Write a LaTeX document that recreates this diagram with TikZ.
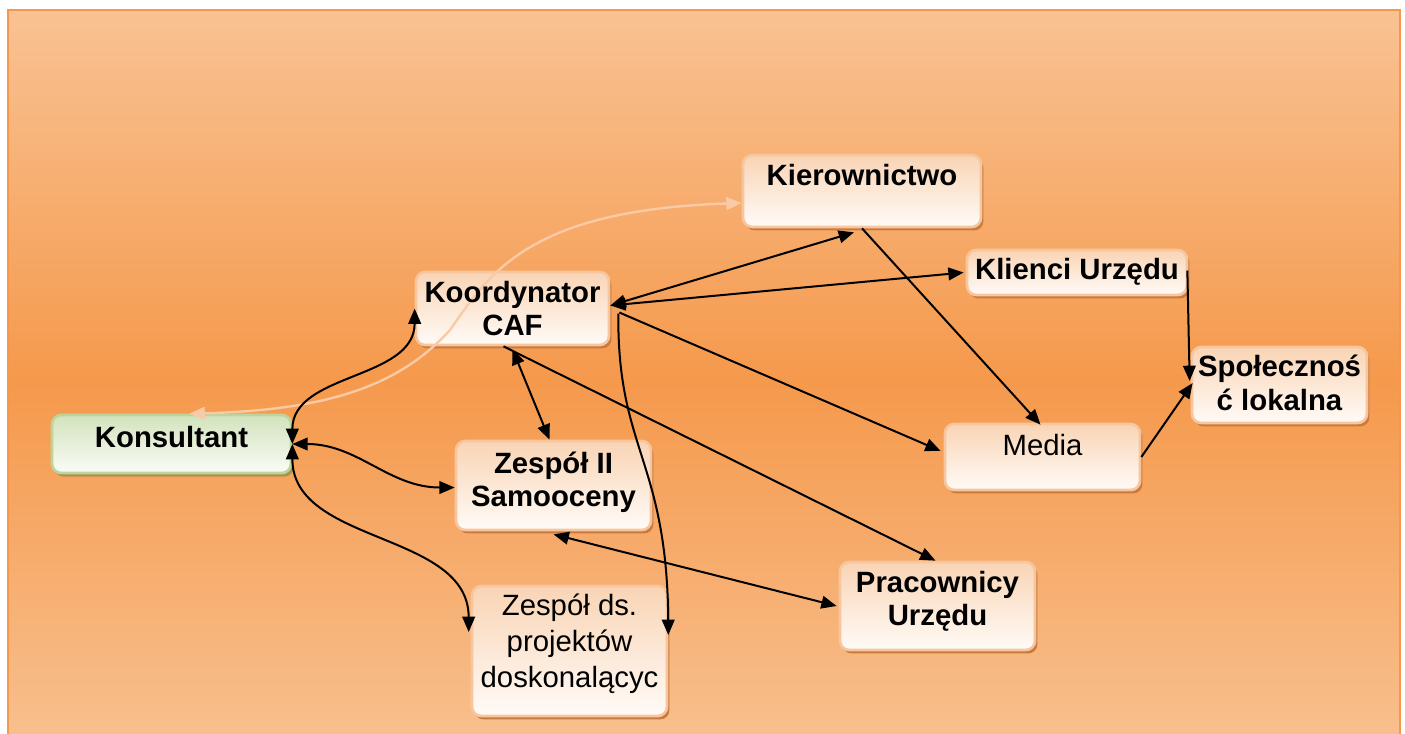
\documentclass[tikz,border=0pt]{standalone}
\usepackage{fontspec}
\setmainfont{Liberation Sans}
\usetikzlibrary{arrows.meta,shadows,calc}
\definecolor{bgTop}{HTML}{F9C293}
\definecolor{bgMid}{HTML}{F5994C}
\definecolor{bgBot}{HTML}{F8C08F}
\definecolor{frameC}{HTML}{F7974B}
\definecolor{boxTop}{HTML}{F9D4B5}
\definecolor{boxBot}{HTML}{FFFBF7}
\definecolor{boxBorder}{HTML}{F8C69E}
\definecolor{boxShadow}{HTML}{C97A3C}
\definecolor{grTop}{HTML}{D2E3BD}
\definecolor{grBot}{HTML}{FAFCF6}
\definecolor{grBorder}{HTML}{BDD59C}
\definecolor{grShadow}{HTML}{A59552}
\definecolor{fadeC}{HTML}{FAC9A6}
\tikzset{
  box/.style={rounded corners=7pt, draw=boxBorder, line width=2pt,
    top color=boxTop, bottom color=boxBot, inner sep=0pt,
    drop shadow={shadow xshift=1.8pt, shadow yshift=-2.6pt, fill=boxShadow, opacity=1}},
  gbox/.style={box, draw=grBorder, top color=grTop, bottom color=grBot,
    drop shadow={shadow xshift=1.8pt, shadow yshift=-2.6pt, fill=grShadow, opacity=1}},
  txt/.style={font=\fontsize{22}{25}\selectfont\bfseries, align=center, inner sep=0pt},
  rtxt/.style={font=\fontsize{22}{27}\selectfont, align=center, inner sep=0pt},
  conn/.style={line width=1.5pt, draw=black},
  fade/.style={line width=1.8pt, draw=fadeC},
  >={Triangle[length=11.5pt,width=9.5pt]}
}
\begin{document}
\begin{tikzpicture}[x=0.75pt,y=-0.75pt]
\useasboundingbox (0,0) rectangle (1405,733);
\clip (0,0) rectangle (1405,733);
\shade[top color=bgTop, bottom color=bgMid] (8,10) rectangle (1400,381);
\shade[top color=bgMid, bottom color=bgBot] (8,380) rectangle (1400,745);
\draw[frameC, line width=2.2pt] (8,10) rectangle (1400,745);

% boxes
\node[box, minimum width=238*0.75pt, minimum height=72*0.75pt] (kier) at (862,191) {};
\node[box, minimum width=193*0.75pt, minimum height=73*0.75pt] (koord) at (512.5,308.5) {};
\node[box, minimum width=220*0.75pt, minimum height=45*0.75pt] (klienci) at (1077,272.5) {};
\node[box, minimum width=175*0.75pt, minimum height=76*0.75pt] (spol) at (1279.5,385) {};
\node[gbox, minimum width=239*0.75pt, minimum height=58*0.75pt] (kons) at (171.5,444) {};
\node[box, minimum width=195*0.75pt, minimum height=89*0.75pt] (zesp2) at (553.5,485.5) {};
\node[box, minimum width=195*0.75pt, minimum height=66*0.75pt] (media) at (1042.5,457) {};
\node[box, minimum width=195*0.75pt, minimum height=88*0.75pt] (prac) at (937.5,606) {};
\node[box, minimum width=195*0.75pt, minimum height=130*0.75pt] (zespds) at (569.5,651) {};

% faded connector
\draw[fade, <->] ([xshift=18*0.75pt]kons.north)
  .. controls (330,410) and (400,385) .. (450,330)
  .. controls (490,272) and (530,210) .. ([yshift=-12*0.75pt]kier.west);

% black connectors
\draw[conn, <->] (kons.east) to[out=90,in=-90] (koord.west);
\draw[conn, <->] (kons.east) to[out=0,in=180] ([yshift=-2*0.75pt]zesp2.west);
\draw[conn, <->] (kons.east) to[out=-90,in=90] ([xshift=-2*0.75pt,yshift=19*0.75pt]zespds.west);
\draw[conn, <->] ([yshift=3*0.75pt]koord.east) -- ([xshift=-8*0.75pt,yshift=-4*0.75pt]kier.south);
\draw[conn, <->] ([yshift=3*0.75pt]koord.east) -- ([xshift=-2*0.75pt]klienci.west);
\draw[conn, ->] ([xshift=9*0.75pt,yshift=-4*0.75pt]koord.east) -- ([xshift=-3*0.75pt,yshift=6*0.75pt]media.west);
\draw[conn, ->] ([xshift=8*0.75pt,yshift=-5*0.75pt]koord.east)
  .. controls (617,450) and (667,460) .. ([yshift=16*0.75pt]zespds.east);
\draw[conn, <->] ([yshift=-3*0.75pt]koord.south) -- ([xshift=-4*0.75pt]zesp2.north);
\draw[conn, ->] ([xshift=-9*0.75pt]koord.south) -- ([xshift=-2*0.75pt]prac.north);
\draw[conn, <->] ([yshift=-3*0.75pt]zesp2.south) -- ([xshift=-2*0.75pt]prac.west);
\draw[conn, ->] (kier.south) -- ([xshift=-2*0.75pt,yshift=-2*0.75pt]media.north);
\draw[conn, ->] ([xshift=-1*0.75pt,yshift=2*0.75pt]klienci.east) -- ([xshift=-1*0.75pt,yshift=4*0.75pt]spol.west);
\draw[conn, ->] (media.east) -- ([xshift=2*0.75pt,yshift=2*0.75pt]spol.west);

% texts
\node[txt] (kierT) at ([yshift=16*0.75pt]kier.center) {Kierownictwo};
\node[txt] (koordT) at (koord.center) {Koordynator\\CAF};
\node[txt] (klienciT) at ([yshift=1*0.75pt]klienci.center) {Klienci Urzędu};
\node[txt] (spolT) at ([yshift=2*0.75pt]spol.center) {Społecznoś\\ć lokalna};
\node[txt] (konsT) at ([yshift=7*0.75pt]kons.center) {Konsultant};
\node[txt] (zesp2T) at ([yshift=3*0.75pt]zesp2.center) {Zespół II\\Samooceny};
\node[rtxt, font=\fontsize{22}{25}\selectfont] (mediaT) at ([yshift=12*0.75pt]media.center) {Media};
\node[txt] (pracT) at ([yshift=5*0.75pt]prac.center) {Pracownicy\\Urzędu};
\node[rtxt] (zespdsT) at ([yshift=7*0.75pt]zespds.center) {Zespół ds.\\projektów\\doskonalącyc};
\end{tikzpicture}
\end{document}
